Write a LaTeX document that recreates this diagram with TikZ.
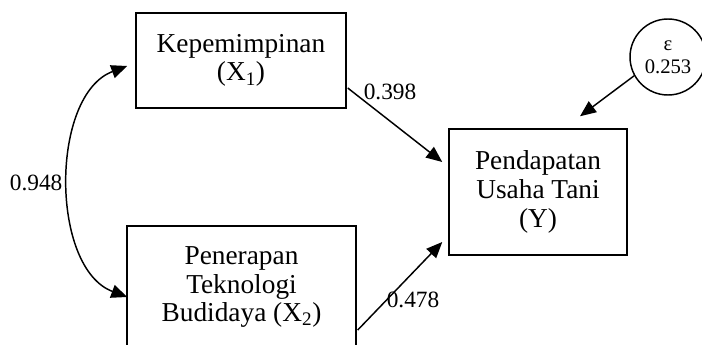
\documentclass[tikz,border=0pt]{standalone}
\usepackage{fontspec}
\setmainfont{Liberation Serif}
\usetikzlibrary{positioning,arrows.meta,calc}

\begin{document}
\begin{tikzpicture}[x=0.75pt, y=-0.75pt, font=\fontsize{20.5}{21.5}\selectfont,
  varbox/.style={draw, line width=1.1pt, align=center, inner sep=0pt},
  path/.style={line width=1.1pt, -{Triangle[length=12pt,width=10pt]}},
  coef/.style={font=\fontsize{17.5}{19}\selectfont, inner sep=1pt}]
\clip (0,0) rectangle (702,345);
\fill[white] (0,0) rectangle (702,345);
% variables
\node[varbox, minimum width=157.5pt, minimum height=71.25pt] (x1) at (241,60.5)
  {Kepemimpinan\\(X\textsubscript{1})};
\node[varbox, minimum width=171.75pt, minimum height=91.5pt] (x2) at (241.5,287)
  {Penerapan\\Teknologi\\Budidaya (X\textsubscript{2})};
\node[varbox, minimum width=133.5pt, minimum height=94.5pt] (y) at (538,192)
  {Pendapatan\\Usaha Tani\\(Y)};
\node[draw, circle, line width=1.1pt, minimum size=57pt, inner sep=0pt, align=center,
  font=\fontsize{15.5}{17}\selectfont] (eps) at (668,57) {ε\\0.253};
% paths
\draw[path] ($(x1.east)+(1,27.5)$) -- ($(y.west)+(-6,-30)$);
\draw[path] ($(x2.east)+(1,43)$) -- ($(y.west)+(-6,50)$);
\draw[path] (eps.209) -- ($(y.north)+(42,-12)$);
\node[coef] (p1) at (390,92) {0.398};
\node[coef] (p2) at (413,300) {0.478};
% correlation
\draw[line width=1.1pt, {Triangle[length=12pt,width=10pt]}-{Triangle[length=12pt,width=10pt]}]
  ($(x1.west)+(-8,5.5)$) .. controls (50,95) and (50,268) .. ($(x2.west)+(1,10)$);
\node[coef, anchor=east] (r12) at (64,183) {0.948};
\end{tikzpicture}
\end{document}
